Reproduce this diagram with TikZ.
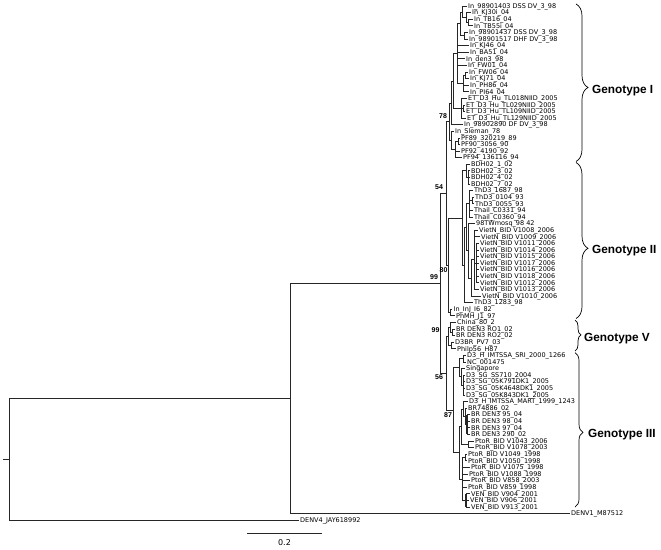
\documentclass[tikz,border=0pt]{standalone}
\usepackage{fontspec}
\setmainfont{DejaVu Sans}
\newfontfamily\gtfont{Liberation Sans}
\usetikzlibrary{decorations.pathreplacing}
\begin{document}
\begin{tikzpicture}[x=1pt,y=-1pt,
  br/.style={draw=black!85, line width=0.6pt},
  thk/.style={draw=black!85, line width=1.3pt},
  lf/.style={anchor=west, inner xsep=1.5pt, inner ysep=0.5pt, font=\fontsize{6.5}{7}\selectfont, text height=4.7pt, text depth=0pt},
  bs/.style={font=\gtfont\bfseries\fontsize{7}{8}\selectfont, inner sep=0pt},
  gt/.style={anchor=base west, font=\gtfont\bfseries\fontsize{11.8}{13}\selectfont, inner sep=0pt},
  brc/.style={draw=black, line width=0.7pt, decorate}
]
\useasboundingbox (0,0) rectangle (661,549);
\fill[white] (0,0) rectangle (661,549);

% ---------- leaves ----------
\node[lf] (l1) at (466.5,6.00) {In\_98901403 DSS DV\_3\_98};
\node[lf] (l2) at (470.5,12.59) {In\_KJ30i\_04};
\node[lf] (l3) at (472.5,19.18) {In\_TB16\_04};
\node[lf] (l4) at (472.5,25.77) {In\_TB55i\_04};
\node[lf] (l5) at (467.5,32.36) {In\_98901437 DSS DV\_3\_98};
\node[lf] (l6) at (467.5,38.95) {In\_98901517 DHF DV\_3\_98};
\node[lf] (l7) at (468.5,45.54) {In\_KJ46\_04};
\node[lf] (l8) at (468.5,52.13) {In\_BA51\_04};
\node[lf] (l9) at (464.5,58.72) {In\_den3\_98};
\node[lf] (l10) at (466.5,65.31) {In\_FW01\_04};
\node[lf] (l11) at (467.5,71.90) {In\_FW06\_04};
\node[lf] (l12) at (468.5,78.49) {In\_KJ71\_04};
\node[lf] (l13) at (468.5,85.08) {In\_PH86\_04};
\node[lf] (l14) at (468.5,91.67) {In\_PI64\_04};
\node[lf] (l15) at (466.5,98.26) {ET\_D3\_Hu\_TL018NIID\_2005};
\node[lf] (l16) at (464.5,104.85) {ET\_D3\_Hu\_TL029NIID\_2005};
\node[lf] (l17) at (464.5,111.44) {ET\_D3\_Hu\_TL109NIID\_2005};
\node[lf] (l18) at (465.5,118.03) {ET\_D3\_Hu\_TL129NIID\_2005};
\node[lf] (l19) at (462.5,124.62) {In\_98902890 DF DV\_3\_98};
\node[lf] (l20) at (453.5,131.21) {In\_Sleman\_78};
\node[lf] (l21) at (459.5,137.80) {PF89\_320219\_89};
\node[lf] (l22) at (459.5,144.39) {PF90\_3056\_90};
\node[lf] (l23) at (459.5,150.98) {PF92\_4190\_92};
\node[lf] (l24) at (461.5,157.57) {PF94\_136116\_94};
\node[lf] (l25) at (469.5,164.16) {BDH02\_1\_02};
\node[lf] (l26) at (469.5,170.75) {BDH02\_3\_02};
\node[lf] (l27) at (469.5,177.34) {BDH02\_4\_02};
\node[lf] (l28) at (469.5,183.93) {BDH02\_7\_02};
\node[lf] (l29) at (472.5,190.52) {ThD3\_1687\_98};
\node[lf] (l30) at (473.5,197.11) {ThD3\_0104\_93};
\node[lf] (l31) at (473.5,203.70) {ThD3\_0055\_93};
\node[lf] (l32) at (472.5,210.29) {Thail\_C0331\_94};
\node[lf] (l33) at (472.5,216.88) {Thail\_C0360\_94};
\node[lf] (l34) at (474.5,223.47) {98TWmosq\_98 42};
\node[lf] (l35) at (477.5,230.06) {VietN\_BID V1008\_2006};
\node[lf] (l36) at (479.5,236.65) {VietN\_BID V1009\_2006};
\node[lf] (l37) at (478.5,243.24) {VietN\_BID V1011\_2006};
\node[lf] (l38) at (478.5,249.83) {VietN\_BID V1014\_2006};
\node[lf] (l39) at (478.5,256.42) {VietN\_BID V1015\_2006};
\node[lf] (l40) at (478.5,263.01) {VietN\_BID V1017\_2006};
\node[lf] (l41) at (478.5,269.60) {VietN\_BID V1016\_2006};
\node[lf] (l42) at (478.5,276.19) {VietN\_BID V1018\_2006};
\node[lf] (l43) at (478.5,282.78) {VietN\_BID V1012\_2006};
\node[lf] (l44) at (478.5,289.37) {VietN\_BID V1013\_2006};
\node[lf] (l45) at (480.5,295.96) {VietN\_BID V1010\_2006};
\node[lf] (l46) at (472.5,302.55) {ThD3\_1283\_98};
\node[lf] (l47) at (452.0,309.14) {In\_InJ\_I6\_82};
\node[lf] (l48) at (454.5,315.73) {PhMH\_J1\_97};
\node[lf] (l49) at (455.5,322.32) {China\_80\_2};
\node[lf] (l50) at (454.5,328.91) {BR DEN3 RO1\_02};
\node[lf] (l51) at (454.5,335.50) {BR DEN3 RO2\_02};
\node[lf] (l52) at (453.5,342.09) {D3BR\_PV7\_03};
\node[lf] (l53) at (455.5,348.68) {Philp56\_H87};
\node[lf] (l54) at (465.5,355.27) {D3\_H\_IMTSSA\_SRI\_2000\_1266};
\node[lf] (l55) at (465.5,361.86) {NC\_001475};
\node[lf] (l56) at (464.5,368.45) {Singapore};
\node[lf] (l57) at (464.5,375.04) {D3\_SG\_SS710\_2004};
\node[lf] (l58) at (464.5,381.63) {D3\_SG\_05K791DK1\_2005};
\node[lf] (l59) at (464.5,388.22) {D3\_SG\_05K4648DK1\_2005};
\node[lf] (l60) at (464.5,394.81) {D3\_SG\_05K843DK1\_2005};
\node[lf] (l61) at (467.5,401.40) {D3\_H\_IMTSSA\_MART\_1999\_1243};
\node[lf] (l62) at (466.5,407.99) {BR74886\_02};
\node[lf] (l63) at (469.5,414.58) {BR DEN3 95\_04};
\node[lf] (l64) at (469.5,421.17) {BR DEN3 98\_04};
\node[lf] (l65) at (469.5,427.76) {BR DEN3 97\_04};
\node[lf] (l66) at (469.5,434.35) {BR DEN3 290\_02};
\node[lf] (l67) at (473.5,440.94) {PtoR\_BID V1043\_2006};
\node[lf] (l68) at (473.5,447.53) {PtoR\_BID V1078\_2003};
\node[lf] (l69) at (466.5,454.12) {PtoR\_BID V1049\_1998};
\node[lf] (l70) at (466.5,460.71) {PtoR\_BID V1050\_1998};
\node[lf] (l71) at (469.5,467.30) {PtoR\_BID V1075\_1998};
\node[lf] (l72) at (467.5,473.89) {PtoR\_BID V1088\_1998};
\node[lf] (l73) at (469.5,480.48) {PtoR\_BID V858\_2003};
\node[lf] (l74) at (466.5,487.07) {PtoR\_BID V859\_1998};
\node[lf] (l75) at (469.5,493.66) {VEN\_BID V904\_2001};
\node[lf] (l76) at (468.5,500.25) {VEN\_BID V906\_2001};
\node[lf] (l77) at (469.5,506.84) {VEN\_BID V913\_2001};
\node[lf] (dv1) at (569.5,513.3) {DENV1\_M87512};
\node[lf] (dv4) at (298.5,520.0) {DENV4\_JAY618992};

% ---------- internal nodes ----------
\coordinate (g1a) at (468,22.5);
\coordinate (g1b) at (466,17.5);
\coordinate (g1c) at (462,11.8);
\coordinate (g1d) at (464,35.7);
\coordinate (g1e) at (460,23.7);
\coordinate (g1f1) at (465,75.2);
\coordinate (g1f) at (463,83.4);
\coordinate (g1g) at (457,53.6);
\coordinate (g1h) at (463,108.1);
\coordinate (g1i) at (461.5,108.1);
\coordinate (gA) at (453,80.9);
\coordinate (gAp) at (451,102.8);
\coordinate (PFa) at (458,141.1);
\coordinate (PF) at (455,149.3);
\coordinate (gB) at (451.5,140.3);
\coordinate (n78) at (449,121.6);
\coordinate (BDHa) at (468,177.3);
\coordinate (BDH) at (466,170.7);
\coordinate (ThDa) at (472,200.4);
\coordinate (ThD) at (469,203.7);
\coordinate (VNa) at (476.5,263.0);
\coordinate (VNb) at (474,259.7);
\coordinate (VN) at (471,277.8);
\coordinate (TW) at (468,250.6);
\coordinate (TT) at (466,227.2);
\coordinate (TT2) at (464,264.9);
\coordinate (G2m) at (462,217.8);
\coordinate (InJ) at (450.5,312.4);
\coordinate (n80) at (448.5,265.1);
\coordinate (n54) at (446,193.4);
\coordinate (RO) at (452.5,332.2);
\coordinate (V1) at (450.5,327.3);
\coordinate (V2) at (451,345.4);
\coordinate (gV) at (448,336.4);
\coordinate (SN) at (463,358.6);
\coordinate (SG) at (463.5,384.9);
\coordinate (SS) at (461,376.7);
\coordinate (UG) at (459,367.6);
\coordinate (BRa) at (467,424.5);
\coordinate (BRc) at (465,416.2);
\coordinate (MB) at (463,408.8);
\coordinate (P1) at (468,444.2);
\coordinate (L1) at (461,426.5);
\coordinate (P2) at (465,457.4);
\coordinate (VEN) at (466,500.3);
\coordinate (L2) at (462,478.9);
\coordinate (LG) at (459,452.7);
\coordinate (n87) at (453,410.2);
\coordinate (n56) at (446,373.3);
\coordinate (R) at (440,283.4);
\coordinate (D1) at (290,398.4);
\coordinate (rt) at (9,459.2);
\coordinate (tk) at (3,459.2);

% ---------- branches ----------
\foreach \p/\c in {
  g1a/l3.west, g1a/l4.west, g1b/l2.west, g1b/g1a, g1c/l1.west, g1c/g1b,
  g1d/l5.west, g1d/l6.west, g1e/g1c, g1e/g1d,
  g1f1/l11.west, g1f1/l12.west, g1f/g1f1, g1f/l13.west, g1f/l14.west,
  g1g/g1e, g1g/l7.west, g1g/l8.west, g1g/l9.west, g1g/l10.west, g1g/g1f,
  g1h/l16.west, g1h/l17.west, g1i/l15.west, g1i/g1h, g1i/l18.west,
  gA/g1g, gA/g1i, gAp/gA, gAp/l19.west,
  PFa/l21.west, PFa/l22.west, PF/PFa, PF/l23.west, PF/l24.west,
  gB/l20.west, gB/PF, n78/gAp, n78/gB,
  BDHa/l26.west, BDHa/l27.west, BDHa/l28.west, BDH/l25.west, BDH/BDHa,
  ThDa/l30.west, ThDa/l31.west, ThD/l29.west, ThD/ThDa, ThD/l32.west, ThD/l33.west,
  VNa/l37.west, VNa/l38.west, VNa/l39.west, VNa/l40.west, VNa/l41.west, VNa/l42.west, VNa/l43.west,
  VNb/l35.west, VNb/l36.west, VNb/VNa, VNb/l44.west,
  VN/VNb, VN/l45.west, TW/l34.west, TW/VN, TT/ThD, TT/TW,
  TT2/TT, TT2/l46.west, G2m/BDH, G2m/TT2,
  InJ/l47.west, InJ/l48.west, n80/G2m, n80/InJ, n54/n78, n54/n80,
  RO/l50.west, RO/l51.west, V1/l49.west, V1/RO, V2/l52.west, V2/l53.west, gV/V1, gV/V2,
  SN/l54.west, SN/l55.west, SG/l57.west, SG/l58.west, SG/l59.west, SG/l60.west,
  SS/l56.west, SS/SG, UG/SN, UG/SS,
  BRa/l63.west, BRa/l64.west, BRa/l65.west, BRa/l66.west, BRc/l62.west, BRc/BRa,
  MB/l61.west, MB/BRc, P1/l67.west, P1/l68.west, L1/MB, L1/P1,
  P2/l69.west, P2/l70.west, VEN/l75.west, VEN/l76.west, VEN/l77.west,
  L2/P2, L2/l71.west, L2/l72.west, L2/l73.west, L2/l74.west, L2/VEN,
  LG/L1, LG/L2, n87/UG, n87/LG, n56/gV, n56/n87,
  R/n54, R/n56, D1/R, D1/dv1.west, rt/D1, rt/dv4.west}
  {\draw[br] (\p) |- (\c);}
\draw[br] (tk) -- (rt);

% dense clusters
\draw[thk] (VNa |- l37.west) -- (VNa |- l43.west);
\draw[thk] (BRa |- l63.west) -- (BRa |- l66.west);
\draw[thk] (VEN |- l75.west) -- (VEN |- l77.west);

% ---------- bootstrap values ----------
\node[bs] (b99a) at (434,277.5) {99};
\node[bs] (b54) at (439,187) {54};
\node[bs] (b78) at (443,116) {78};
\node[bs] (b80) at (443.5,270) {80};
\node[bs] (b99b) at (435.5,330) {99};
\node[bs] (b56) at (439,377) {56};
\node[bs] (b87) at (448,415) {87};

% ---------- genotype braces ----------
\coordinate (bI1) at (576,4);
\coordinate (bI2) at (576,161.5);
\coordinate (bII1) at (576,162.5);
\coordinate (bII2) at (576,318.5);
\coordinate (bV1) at (575,320);
\coordinate (bV2) at (575,351);
\coordinate (bIII1) at (575,352.7);
\coordinate (bIII2) at (575,507);
\draw[brc, decoration={brace, amplitude=12pt, aspect=0.53}] (bI1) -- (bI2);
\draw[brc, decoration={brace, amplitude=12pt, aspect=0.55}] (bII1) -- (bII2);
\draw[brc, decoration={brace, amplitude=6pt, aspect=0.48}] (bV1) -- (bV2);
\draw[brc, decoration={brace, amplitude=8pt, aspect=0.516}] (bIII1) -- (bIII2);
\node[gt] (tI) at (592,93) {Genotype I};
\node[gt] (tII) at (592,253) {Genotype II};
\node[gt] (tV) at (584,341.5) {Genotype V};
\node[gt] (tIII) at (588,437.5) {Genotype III};

% ---------- scale bar ----------
\coordinate (sb1) at (247,533);
\coordinate (sb2) at (322,533);
\draw[br] (sb1) -- (sb2);
\node[font=\fontsize{8}{9}\selectfont, inner sep=0pt] (sbl) at (284.5,543) {0.2};
\end{tikzpicture}
\end{document}
